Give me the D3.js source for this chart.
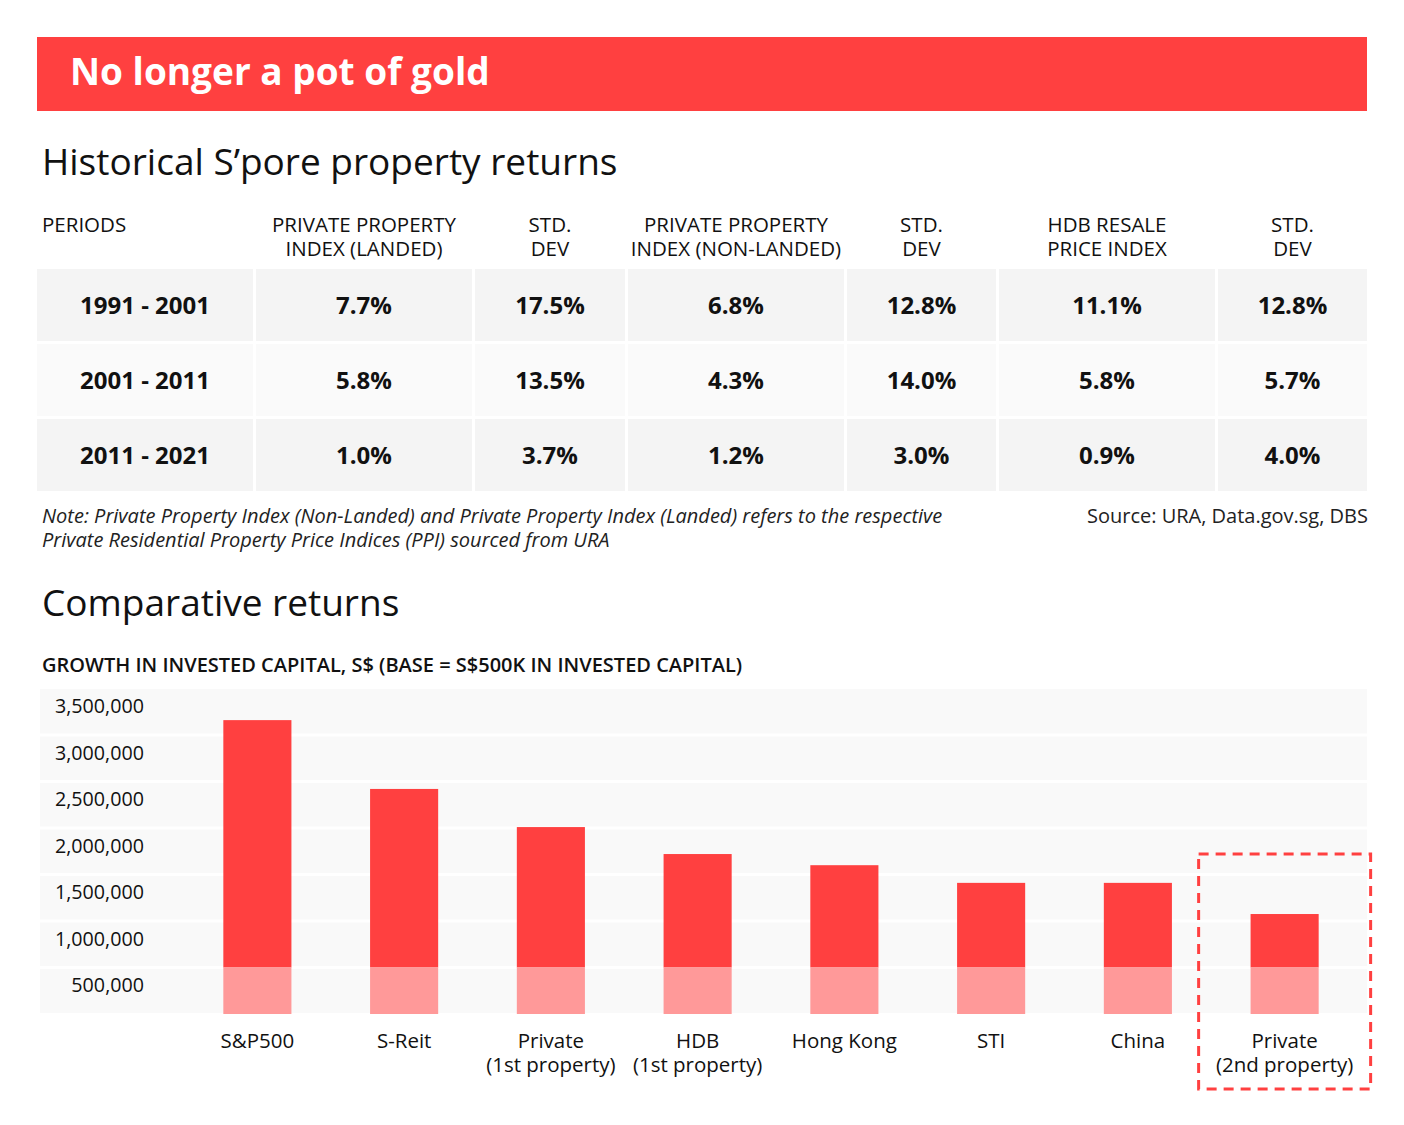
<!DOCTYPE html>
<html><head><meta charset="utf-8">
<script src="https://cdn.jsdelivr.net/npm/d3@7"></script>
<style>
html,body{margin:0;padding:0;background:#fff;}
svg{display:block;font-family:"Open Sans",sans-serif;}
</style></head>
<body><svg id="c" width="1404" height="1125"></svg>
<script>
// ---- data ----
const periods = ["1991 - 2001", "2001 - 2011", "2011 - 2021"];
const landed = ["7.7%", "5.8%", "1.0%"];
const landedSd = ["17.5%", "13.5%", "3.7%"];
const nonLanded = ["6.8%", "4.3%", "1.2%"];
const nonLandedSd = ["12.8%", "14.0%", "3.0%"];
const hdbIndex = ["11.1%", "5.8%", "0.9%"];
const hdbSd = ["12.8%", "5.7%", "4.0%"];
const tableHeaders = [["PERIODS"], ["PRIVATE PROPERTY", "INDEX (LANDED)"], ["STD.", "DEV"],
  ["PRIVATE PROPERTY", "INDEX (NON-LANDED)"], ["STD.", "DEV"], ["HDB RESALE", "PRICE INDEX"], ["STD.", "DEV"]];

const categories = ["S&P500", "S-Reit", "Private\n(1st property)", "HDB\n(1st property)", "Hong Kong", "STI", "China", "Private\n(2nd property)"];
const finalValue = [3160000, 2420000, 2010000, 1720000, 1600000, 1410000, 1410000, 1075000];
const baseCapital = [500000, 500000, 500000, 500000, 500000, 500000, 500000, 500000];
const yTicks = [500000, 1000000, 1500000, 2000000, 2500000, 3000000, 3500000];

// ---- styles ----
const RED = "#ff4040", PALE = "#ff9999", INK = "#111";
const FONT = "Open Sans";
const svg = d3.select("#c");

// title banner
svg.append("rect").attr("x", 37).attr("y", 37).attr("width", 1330).attr("height", 74).attr("fill", RED);
svg.append("text").attr("x", 70).attr("y", 85).attr("fill", "#fff")
  .attr("font-size", 37).attr("font-weight", 700).text("No longer a pot of gold");

svg.append("text").attr("x", 42).attr("y", 175).attr("fill", INK)
  .attr("font-size", 37).text("Historical S\u2019pore property returns");

// ---- table ----
const colEdges = [[37,253],[256,472],[475,625],[628,844],[847,996],[999,1215],[1218,1367]];
const rowTops = [269, 344, 419];
const rowH = 72;
const rowFill = ["#f4f4f4", "#fafafa", "#f4f4f4"];
const columns = [periods, landed, landedSd, nonLanded, nonLandedSd, hdbIndex, hdbSd];

const hdr = svg.append("g");
tableHeaders.forEach((lines, ci) => {
  const [x0, x1] = colEdges[ci];
  lines.forEach((l, li) => hdr.append("text").attr("font-size", 20.5).attr("fill", INK)
    .attr("text-anchor", ci === 0 ? "start" : "middle")
    .attr("x", ci === 0 ? 42 : (x0 + x1) / 2)
    .attr("y", 232 + li * 24).text(l));
});

const body = svg.append("g");
periods.forEach((p, ri) => {
  columns.forEach((col, ci) => {
    const [x0, x1] = colEdges[ci];
    body.append("rect").attr("x", x0).attr("y", rowTops[ri]).attr("width", x1 - x0).attr("height", rowH)
      .attr("fill", rowFill[ri]);
    body.append("text").attr("x", (x0 + x1) / 2).attr("y", rowTops[ri] + rowH / 2 + 9)
      .attr("text-anchor", "middle").attr("font-size", 24).attr("font-weight", 700).attr("fill", INK)
      .text(col[ri]);
  });
});

svg.append("text").attr("x", 42).attr("y", 523).attr("font-size", 20).attr("font-style", "italic").attr("fill", "#222")
  .text("Note: Private Property Index (Non-Landed) and Private Property Index (Landed) refers to the respective");
svg.append("text").attr("x", 42).attr("y", 547).attr("font-size", 20).attr("font-style", "italic").attr("fill", "#222")
  .text("Private Residential Property Price Indices (PPI) sourced from URA");
svg.append("text").attr("x", 1368).attr("y", 523).attr("font-size", 20).attr("text-anchor", "end").attr("fill", "#222")
  .text("Source: URA, Data.gov.sg, DBS");

svg.append("text").attr("x", 42).attr("y", 616).attr("fill", INK)
  .attr("font-size", 37).text("Comparative returns");
svg.append("text").attr("x", 42).attr("y", 672).attr("fill", INK)
  .attr("font-size", 20).attr("font-weight", 600).text("GROWTH IN INVESTED CAPITAL, S$ (BASE = S$500K IN INVESTED CAPITAL)");

// ---- bar chart ----
const y = d3.scaleLinear().domain([0, 3000000]).range([1014, 735]);
const x = d3.scaleBand().domain(categories).range([184, 1358]).paddingInner(0.536).paddingOuter(0.268);

svg.append("rect").attr("x", 40).attr("y", 689).attr("width", 1327).attr("height", 1013 - 689).attr("fill", "#f9f9f9");
svg.append("g").selectAll("line").data(yTicks.filter(v => v < 3500000)).join("line")
  .attr("x1", 40).attr("x2", 1367).attr("y1", d => y(d)).attr("y2", d => y(d))
  .attr("stroke", "#fff").attr("stroke-width", 3);

const yAxis = svg.append("g").attr("transform", "translate(144,18)")
  .call(d3.axisLeft(y).tickValues(yTicks).tickSize(0).tickPadding(0).tickFormat(d3.format(",")));
yAxis.select(".domain").remove();
yAxis.selectAll("text").attr("font-size", 19.7).attr("fill", INK).attr("font-family", FONT);

const bars = svg.append("g");
bars.selectAll("rect.top").data(categories).join("rect").attr("class", "top")
  .attr("x", d => x(d)).attr("width", x.bandwidth())
  .attr("y", (d, i) => y(finalValue[i])).attr("height", (d, i) => y(baseCapital[i]) - y(finalValue[i]))
  .attr("fill", RED);
bars.selectAll("rect.base").data(categories).join("rect").attr("class", "base")
  .attr("x", d => x(d)).attr("width", x.bandwidth())
  .attr("y", (d, i) => y(baseCapital[i])).attr("height", (d, i) => y(0) - y(baseCapital[i]))
  .attr("fill", PALE);

const xAxis = svg.append("g").attr("transform", "translate(0,1013)")
  .call(d3.axisBottom(x).tickSize(0).tickFormat(""));
xAxis.select(".domain").remove();
xAxis.selectAll(".tick").each(function(d) {
  const g = d3.select(this);
  d.split("\n").forEach((l, i) => g.append("text").attr("fill", INK).attr("font-size", 20.5)
    .attr("text-anchor", "middle").attr("font-family", FONT)
    .attr("x", 0).attr("y", 35 + i * 24).text(l));
});

// highlight box around last category
const last = categories[categories.length - 1];
const cx = x(last) + x.bandwidth() / 2;
svg.append("rect").attr("x", cx - 86).attr("y", 854).attr("width", 172).attr("height", 235)
  .attr("fill", "none").attr("stroke", RED).attr("stroke-width", 3).attr("stroke-dasharray", "10,7");
</script></body></html>
